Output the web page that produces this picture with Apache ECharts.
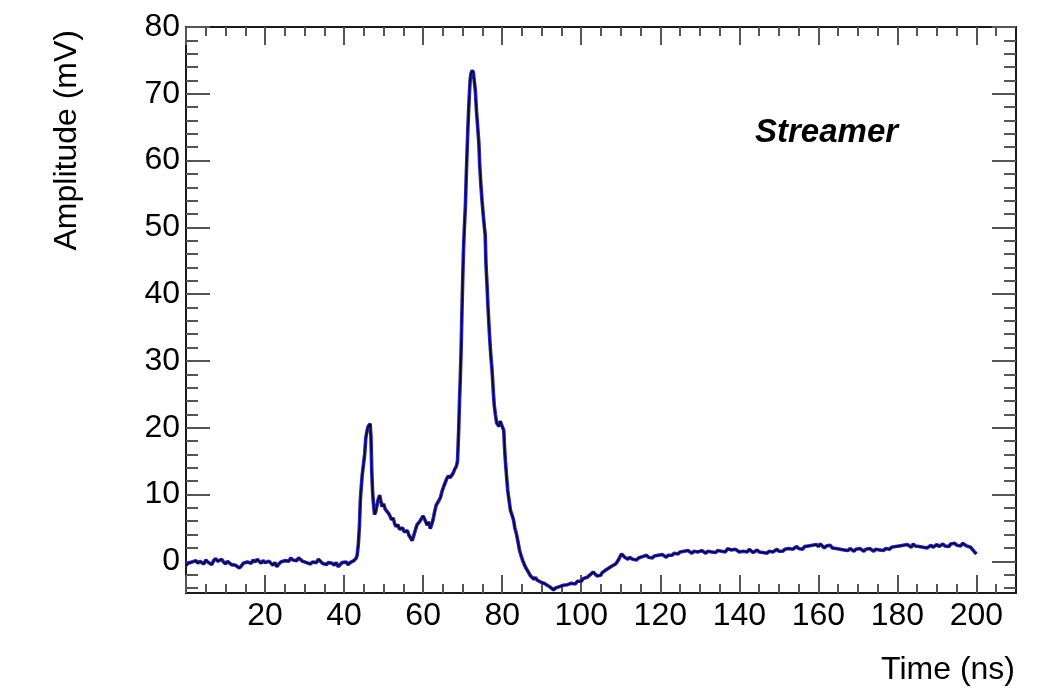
<!DOCTYPE html>
<html>
<head>
<meta charset="utf-8">
<title>Streamer waveform</title>
<script src="https://cdn.jsdelivr.net/npm/echarts@6/dist/echarts.min.js"></script>
<style>
  html, body { margin: 0; padding: 0; background: #ffffff; }
  #chart { width: 1055px; height: 691px; }
</style>
</head>
<body>
<div id="chart"></div>
<script>
// Oscilloscope trace of a streamer pulse: [time (ns), amplitude (mV)]
const baselineTrace = [
  [0,-0.6],[0.5,-0.3],[1,-0.5],[1.5,-0.1],[2,-0.2],[2.5,0.1],[3,-0.3],[3.5,0.0],[4,-0.2],[4.5,-0.4],
  [5,0.2],[5.5,-0.1],[6,-0.3],[6.5,-0.5],[7,0.1],[7.5,0.4],[8,0.0],[8.5,-0.2],[9,0.3],[9.5,-0.1],
  [10,-0.4],[10.5,0.0],[11,-0.2],[11.5,-0.5],[12,-0.3],[12.5,-0.6],[13,-0.4],[13.5,-1.0],[14,-0.7],[14.5,-0.3],
  [15,-0.5],[15.5,-0.1],[16,0.1],[16.5,-0.3],[17,0.2],[17.5,-0.1],[18,0.3],[18.5,0.0],[19,-0.3],[19.5,0.1],
  [20,-0.2],[20.5,-0.4],[21,0.0],[21.5,-0.3],[22,-0.6],[22.5,-0.2],[23,-0.8],[23.5,-0.4],[24,-0.1],[24.5,-0.3],
  [25,0.1],[25.5,0.3],[26,0.0],[26.5,0.5],[27,0.2],[27.5,0.4],[28,0.1],[28.5,0.5],[29,0.3],[29.5,0.0],
  [30,0.2],[30.5,-0.2],[31,0.0],[31.5,-0.4],[32,-0.1],[32.5,0.1],[33,-0.2],[33.5,0.3],[34,0.0],[34.5,-0.3],
  [35,-0.1],[35.5,-0.5],[36,-0.2],[36.5,0.0],[37,-0.3],[37.5,-0.6],[38,-0.2],[38.5,-0.8],[39,-0.5],[39.5,-0.2],
  [40,-0.4],[40.5,-0.1],[41,-0.5],[41.5,-0.2],[42,-0.3],[42.5,0.1],[43,0.4]
];

const precursorTrace = [
  [43.3,0.9],[43.6,2.5],[43.9,5.5],[44.1,9.0],[44.3,10.8],[44.6,13.0],[44.9,14.5],[45.2,16.0],[45.5,18.5],[45.8,19.5],
  [46.1,20.2],[46.4,20.0],[46.6,20.6],[46.8,18.6],[47.0,13.5],[47.2,10.5],[47.4,8.8],[47.7,7.0],[48.0,7.4],[48.3,8.3],
  [48.6,9.2],[49.0,9.9],[49.3,9.0],[49.6,8.2],[50.0,8.6],[50.4,7.8],[50.8,8.0],[51.2,7.2],[51.6,6.8],[52.0,6.2],
  [52.4,6.5],[52.8,5.6],[53.2,5.2],[53.6,5.5],[54.0,4.8],[54.4,4.6],[54.8,5.0],[55.2,4.4],[55.6,4.2],[56.0,4.6],
  [56.4,3.9],[56.8,3.5],[57.2,3.1],[57.6,3.8],[58.0,4.6],[58.4,5.4],[58.8,5.2],[59.2,6.0],[59.6,6.4],[60.0,6.8],
  [60.3,6.6],[60.6,6.0],[61.0,5.4],[61.4,5.9],[61.8,4.9],[62.2,5.6],[62.5,6.2],[62.9,7.4],[63.3,8.4],[63.7,8.8],
  [64.0,9.1],[64.4,9.6],[64.8,10.5],[65.2,11.2],[65.6,11.8],[66.0,12.4],[66.4,12.8],[66.8,12.5],[67.2,12.7],[67.6,13.2],
  [68.0,13.8],[68.4,14.2],[68.7,15.0]
];

const mainPulseTrace = [
  [69.0,19.8],[69.2,24.0],[69.4,27.4],[69.6,31.5],[69.8,36.9],[70.0,42.0],[70.2,46.4],[70.4,49.5],[70.7,53.4],[70.9,57.5],
  [71.1,61.1],[71.3,64.5],[71.5,67.4],[71.7,70.0],[71.9,72.1],[72.1,73.0],[72.4,73.5],[72.7,73.2],[73.0,73.4],[73.2,70.5],
  [73.5,67.4],[73.8,65.0],[74.1,62.6],[74.3,59.5],[74.6,56.4],[74.9,54.0],[75.2,51.9],[75.5,50.0],[75.7,48.9],[75.9,44.5],
  [76.2,40.9],[76.4,38.2],[76.6,35.9],[76.8,33.8],[77.0,31.9],[77.2,30.2],[77.4,28.9],[77.6,27.0],[77.8,24.9],[78.0,23.3],
  [78.3,21.9],[78.6,20.7],[78.9,20.9],[79.2,20.2],[79.5,21.0],[79.8,20.5],[80.1,20.3],[80.4,19.6],[80.6,17.0],[80.8,15.1],
  [81.1,12.8],[81.4,10.6],[81.7,9.3],[82.1,7.6],[82.5,6.9],[82.9,6.1],[83.2,5.0],[83.6,4.1],[84.0,2.9],[84.4,1.6],
  [84.8,0.8],[85.2,0.1]
];

const undershootTrace = [
  [85.6,-0.5],[86.0,-1.0],[86.4,-1.4],[86.8,-1.8],[87.2,-2.2],[87.6,-2.4],[88.0,-2.7],[88.4,-2.4],[88.8,-2.8],[89.2,-2.6],
  [89.7,-3.1],[90.2,-2.9],[90.6,-3.3],[91.0,-3.1],[91.4,-3.6],[91.8,-3.4],[92.2,-3.9],[92.6,-3.7],[93.0,-4.3],[93.5,-4.0],
  [94.0,-4.2],[94.5,-3.8],[95.0,-4.0],[95.5,-3.6],[96.0,-3.8],[96.5,-3.5],[97.0,-3.7],[97.5,-3.3],[98.0,-3.1],[98.5,-3.4],
  [99.0,-3.0],[99.5,-2.8],[100.0,-3.0],[100.5,-2.6],[101.0,-2.7],[101.5,-2.4],[102.0,-2.2],[102.5,-1.9],[103.0,-1.6],[103.5,-1.9],
  [104.0,-2.2],[104.4,-2.4],[104.9,-2.1],[105.3,-1.7],[105.7,-1.6],[106.2,-1.3],[106.6,-1.2],[107.0,-1.0],[107.4,-0.9],[107.8,-0.7],
  [108.3,-0.5],[108.7,-0.4],[109.1,-0.1],[109.5,0.3],[109.9,0.8],[110.2,1.1],[110.4,1.3],[110.7,1.0],[111.0,0.6],[111.4,0.5],
  [111.8,0.3],[112.2,0.6],[112.5,0.4],[113.0,0.3],[113.5,0.5],[114.0,0.2],[114.5,0.5],[115.0,0.4],[115.5,0.7],[116.0,0.5],
  [116.5,0.9],[117.0,0.6]
];

const tailTrace = [
  [117.5,0.7],[118,0.5],[118.5,0.8],[119,0.6],[119.5,0.9],[120,0.7],[120.5,1.0],[121,0.8],[121.5,0.6],[122,0.9],
  [122.5,1.1],[123,0.9],[123.5,1.2],[124,1.3],[124.5,1.1],[125,1.4],[125.5,1.2],[126,1.5],[126.5,1.3],[127,1.6],
  [127.5,1.4],[128,1.2],[128.5,1.5],[129,1.7],[129.5,1.4],[130,1.3],[130.5,1.6],[131,1.4],[131.5,1.2],[132,1.5],
  [132.5,1.7],[133,1.4],[133.5,1.6],[134,1.3],[134.5,1.6],[135,1.8],[135.5,1.5],[136,1.7],[136.5,1.4],[137,1.9],
  [137.5,2.1],[138,1.7],[138.5,1.5],[139,1.8],[139.5,1.6],[140,1.4],[140.5,1.2],[141,1.5],[141.5,1.7],[142,1.4],
  [142.5,1.8],[143,1.6],[143.5,1.3],[144,1.5],[144.5,1.7],[145,1.4],[145.5,1.6],[146,1.3],[146.5,1.5],[147,1.2],
  [147.5,1.5],[148,1.7],[148.5,1.4],[149,1.6],[149.5,1.8],[150,1.5],[150.5,1.7],[151,1.5],[151.5,1.8],[152,1.6],
  [152.5,1.9],[153,2.1],[153.5,1.8],[154,2.0],[154.5,2.2],[155,1.9],[155.5,2.1],[156,1.8],[156.5,2.2],[157,2.0],
  [157.5,2.3],[158,2.1],[158.5,2.4],[159,2.2],[159.5,2.5],[160,2.2],[160.5,2.6],[161,2.3],[161.5,2.0],[162,2.3],
  [162.5,2.1],[163,2.4],[163.5,2.0],[164,2.2],[164.5,1.9],[165,2.1],[165.5,1.8],[166,2.0],[166.5,1.7],[167,1.9],
  [167.5,1.6],[168,1.9],[168.5,1.7],[169,1.5],[169.5,1.8],[170,1.6],[170.5,1.9],[171,1.7],[171.5,1.5],[172,1.8],
  [172.5,1.6],[173,1.9],[173.5,1.7],[174,1.5],[174.5,1.8],[175,2.0],[175.5,1.7],[176,1.9],[176.5,1.6],[177,1.9],
  [177.5,2.1],[178,1.8],[178.5,2.1],[179,1.9],[179.5,2.2],[180,2.0],[180.5,2.3],[181,2.1],[181.5,2.4],[182,2.2],
  [182.5,2.5],[183,2.3],[183.5,2.1],[184,2.6],[184.5,2.3],[185,2.5],[185.5,2.2],[186,2.4],[186.5,2.1],[187,2.3],
  [187.5,2.0],[188,2.2],[188.5,2.4],[189,2.1],[189.5,2.3],[190,2.5],[190.5,2.2],[191,2.4],[191.5,2.6],[192,2.3],
  [192.5,2.5],[193,2.2],[193.5,2.6],[194,2.4],[194.5,2.7],[195,2.4],[195.5,2.6],[196,2.3],[196.5,2.7],[197,2.5],
  [197.5,2.3],[198,2.5],[198.5,2.1],[199,1.9],[199.5,1.4],[200,1.1]
];

// Axis ranges and tick positions
const timeRange = [0, 210];
const amplitudeRange = [-4.75, 80];
const timeMajorTicks = [0, 20, 40, 60, 80, 100, 120, 140, 160, 180, 200];
const timeTickLabels = [20, 40, 60, 80, 100, 120, 140, 160, 180, 200];
const timeMinorTicks = [5, 10, 15, 25, 30, 35, 45, 50, 55, 65, 70, 75, 85, 90, 95, 105, 110, 115,
  125, 130, 135, 145, 150, 155, 165, 170, 175, 185, 190, 195, 205];
const ampMajorTicks = [0, 10, 20, 30, 40, 50, 60, 70, 80];
const ampTickLabels = [0, 10, 20, 30, 40, 50, 60, 70, 80];
const ampMinorTicks = [-4, -2, 2, 4, 6, 8, 12, 14, 16, 18, 22, 24, 26, 28, 32, 34, 36, 38,
  42, 44, 46, 48, 52, 54, 56, 58, 62, 64, 66, 68, 72, 74, 76, 78];

const waveform = baselineTrace.concat(precursorTrace, mainPulseTrace, undershootTrace, tailTrace);

const FONT = '"Liberation Sans", Arial, Helvetica, sans-serif';
const FRAME_COLOR = '#1a1a1a';
const TICK_COLOR = '#555555';

// One axis per side and tick size, so the frame carries ticks on all four edges
function frameAxis(position, range, ticks, tickLen, labels, showLine) {
  const ax = {
    type: 'value',
    position: position,
    min: range[0],
    max: range[1],
    scale: true,
    splitLine: { show: false },
    axisLine: { show: showLine, onZero: false, lineStyle: { color: FRAME_COLOR, width: 2 } },
    axisTick: {
      show: true, inside: true, length: tickLen, customValues: ticks,
      lineStyle: { color: TICK_COLOR, width: 2 }
    },
    axisLabel: { show: false }
  };
  if (labels) {
    ax.axisLabel = {
      show: true, customValues: labels, color: '#000', fontFamily: FONT, fontSize: 32,
      margin: (position === 'left' || position === 'right') ? 6 : 7
    };
  }
  return ax;
}

const xBottom = frameAxis('bottom', timeRange, timeMajorTicks, 18, timeTickLabels, true);
xBottom.name = 'Time (ns)';
xBottom.nameLocation = 'end';
xBottom.nameGap = -1;
xBottom.nameMoveOverlap = false;
xBottom.nameTextStyle = {
  color: '#000', fontFamily: FONT, fontSize: 32, align: 'right', verticalAlign: 'top',
  padding: [61, 0, 0, 0]
};

const yLeft = frameAxis('left', amplitudeRange, ampMajorTicks, 24, ampTickLabels, true);
yLeft.name = 'Amplitude (mV)';
yLeft.nameLocation = 'end';
yLeft.nameRotate = 90;
yLeft.nameGap = -3;
yLeft.nameMoveOverlap = false;
yLeft.nameTextStyle = {
  color: '#000', fontFamily: FONT, fontSize: 32, align: 'right', verticalAlign: 'bottom',
  padding: [0, 0, 103, 0]
};

const chart = echarts.init(document.getElementById('chart'), null, { renderer: 'canvas' });
chart.setOption({
  animation: false,
  backgroundColor: '#ffffff',
  grid: { left: 186, right: 39, top: 27, bottom: 98, containLabel: false, outerBoundsMode: 'none' },
  xAxis: [
    xBottom,
    frameAxis('bottom', timeRange, timeMinorTicks, 9, null, false),
    frameAxis('top', timeRange, timeMajorTicks, 18, null, true),
    frameAxis('top', timeRange, timeMinorTicks, 9, null, false)
  ],
  yAxis: [
    yLeft,
    frameAxis('left', amplitudeRange, ampMinorTicks, 12, null, false),
    frameAxis('right', amplitudeRange, ampMajorTicks, 24, null, true),
    frameAxis('right', amplitudeRange, ampMinorTicks, 12, null, false)
  ],
  graphic: [{
    type: 'text', left: 755, top: 116,
    style: { text: 'Streamer', font: 'italic bold 33px ' + FONT, fill: '#000' }
  }],
  series: [
    {
      name: 'trace', type: 'line', data: waveform, xAxisIndex: 0, yAxisIndex: 0,
      showSymbol: false, symbol: 'none', smooth: false,
      lineStyle: { color: '#2a22c8', width: 3.6 }, z: 3
    },
    {
      name: 'trace core', type: 'line', data: waveform, xAxisIndex: 0, yAxisIndex: 0,
      showSymbol: false, symbol: 'none', smooth: false,
      lineStyle: { color: '#000000', width: 1.2 }, z: 4
    }
  ]
});
</script>
</body>
</html>
